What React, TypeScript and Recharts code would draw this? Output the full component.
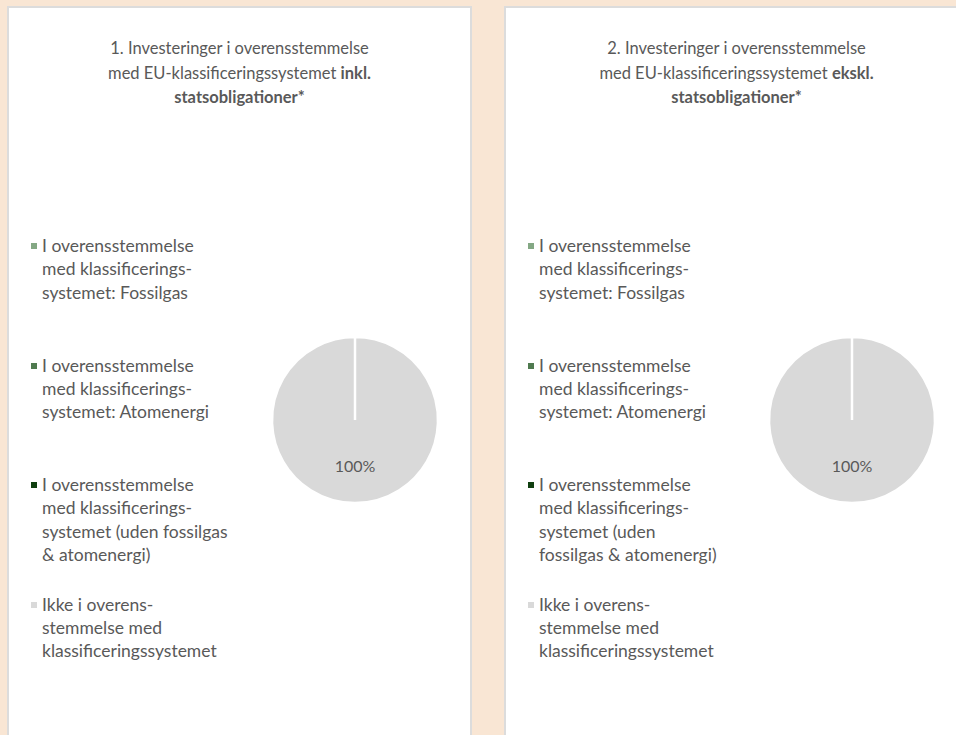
import { PieChart, Pie, Cell } from "recharts";

const categories = [
  "I overensstemmelse med klassificeringssystemet: Fossilgas",
  "I overensstemmelse med klassificeringssystemet: Atomenergi",
  "I overensstemmelse med klassificeringssystemet (uden fossilgas & atomenergi)",
  "Ikke i overensstemmelse med klassificeringssystemet",
];
const colors = ["#84a884", "#4f7a4f", "#103f10", "#d9d9d9"];

// legend lines as broken in the original
const legendInkl = [
  ["I overensstemmelse", "med klassificerings-", "systemet: Fossilgas"],
  ["I overensstemmelse", "med klassificerings-", "systemet: Atomenergi"],
  ["I overensstemmelse", "med klassificerings-", "systemet (uden fossilgas", "& atomenergi)"],
  ["Ikke i overens-", "stemmelse med", "klassificeringssystemet"],
];
const legendEkskl = [
  ["I overensstemmelse", "med klassificerings-", "systemet: Fossilgas"],
  ["I overensstemmelse", "med klassificerings-", "systemet: Atomenergi"],
  ["I overensstemmelse", "med klassificerings-", "systemet (uden", "fossilgas & atomenergi)"],
  ["Ikke i overens-", "stemmelse med", "klassificeringssystemet"],
];

const valuesInkl = [0, 0, 0, 100];
const valuesEkskl = [0, 0, 0, 100];

const FONT = "Lato, 'Open Sans', sans-serif";
const TEXT = "#595959";

interface PanelProps {
  left: number;
  num: string;
  bold: string;
  values: number[];
  legend: string[][];
}

function renderLabel(p: any) {
  if (!p.value) return null;
  const RAD = Math.PI / 180;
  const r = p.outerRadius * 0.55;
  const x = p.cx + r * Math.cos(-p.midAngle * RAD);
  const y = p.cy + r * Math.sin(-p.midAngle * RAD);
  return (
    <text x={x} y={y} fill={TEXT} fontSize={16} fontFamily={FONT} textAnchor="middle" dominantBaseline="central">
      {`${Math.round(p.percent * 100)}%`}
    </text>
  );
}

function Panel({ left, num, bold, values, legend }: PanelProps) {
  const data = categories.map((name, i) => ({ name, value: values[i] }));
  return (
    <div
      style={{
        position: "absolute",
        left,
        top: 6,
        width: 461,
        height: 740,
        background: "#fff",
        border: "2px solid #dcdcdc",
        fontFamily: FONT,
        color: TEXT,
      }}
    >
      {/* title */}
      <div
        style={{
          position: "absolute",
          left: 0,
          top: 28,
          width: 461,
          textAlign: "center",
          fontSize: 16.5,
          lineHeight: "24.5px",
        }}
      >
        <div>{num}. Investeringer i overensstemmelse</div>
        <div>
          med EU-klassificeringssystemet <b>{bold}</b>
        </div>
        <div>
          <b>statsobligationer*</b>
        </div>
      </div>

      {/* legend */}
      {legend.map((lines, i) => (
        <div
          key={i}
          style={{
            position: "absolute",
            left: 22,
            top: 226 + i * 119.5,
            fontSize: 17.5,
            lineHeight: "23.3px",
          }}
        >
          <div
            style={{
              position: "absolute",
              left: 0,
              top: 9,
              width: 6,
              height: 6,
              background: colors[i],
            }}
          />
          <div style={{ marginLeft: 11 }}>
            {lines.map((l, j) => (
              <div key={j} style={{ whiteSpace: "nowrap" }}>{l}</div>
            ))}
          </div>
        </div>
      ))}

      <div style={{ position: "absolute", left: 0, top: 0 }}>
        <PieChart width={461} height={740}>
          <Pie
            data={data}
            dataKey="value"
            nameKey="name"
            cx={341}
            cy={407}
            outerRadius={83}
            startAngle={90}
            endAngle={-270}
            stroke="#fff"
            strokeWidth={2.5}
            label={renderLabel}
            labelLine={false}
            isAnimationActive={false}
          >
            {data.map((d, i) => (
              <Cell key={d.name} fill={colors[i]} />
            ))}
          </Pie>
        </PieChart>
      </div>
    </div>
  );
}

export default function App() {
  return (
    <div
      style={{
        position: "absolute",
        left: 0,
        top: 0,
        width: 956,
        height: 735,
        background: "#f9e6d4",
        overflow: "hidden",
      }}
    >
      <Panel left={7} num="1" bold="inkl." values={valuesInkl} legend={legendInkl} />
      <Panel left={504} num="2" bold="ekskl." values={valuesEkskl} legend={legendEkskl} />
    </div>
  );
}
